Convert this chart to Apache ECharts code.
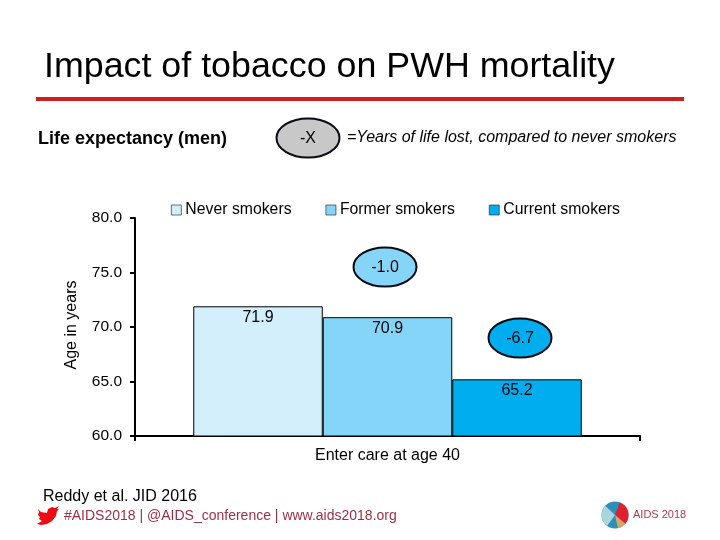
<!DOCTYPE html>
<html><head><meta charset="utf-8">
<style>html,body{margin:0;padding:0;background:#fff}#c{width:720px;height:540px}</style>
<script src="https://cdn.jsdelivr.net/npm/echarts@6/dist/echarts.min.js"></script>
</head><body><div id="c"></div>
<script>
var categories = ['Enter care at age 40'];
var seriesNames = ['Never smokers', 'Former smokers', 'Current smokers'];
var neverValues = [71.9];
var formerValues = [70.9];
var currentValues = [65.2];
var yearsLost = ['-1.0', '-6.7'];
var FONT = '"Liberation Sans", Arial, sans-serif';

function ell(cx, cy, fill, label) {
  return [
    {type:'ellipse', shape:{cx:cx, cy:cy, rx:31.5, ry:19.5}, style:{fill:fill, stroke:'#0a0a14', lineWidth:2}, z:10},
    {type:'text', x:cx, y:cy+1, style:{text:label, fill:'#000', font:'16px '+FONT, align:'center', verticalAlign:'middle'}, z:11}
  ];
}
var birdPoints = [[38,509],[41,512],[47,513],[48,509],[52,507],[55,508],[59,506],[57,509],[59,509],[57,511],[56,516],[52,521],[47,524],[41,525],[37,524],[42,521],[39,519],[40,517],[38,515],[39,512]];
function dataLabel() {
  return {show:true, position:'insideTop', distance:3, formatter:function(p){return p.value.toFixed(1);}, color:'#000', fontSize:16, fontFamily:FONT};
}

var option = {
  animation:false,
  textStyle:{fontFamily:FONT},
  legend:{
    left:166, top:197, itemWidth:10, itemHeight:10, itemGap:34, icon:'rect',
    data:seriesNames,
    itemStyle:{borderColor:'#333', borderWidth:0.7},
    textStyle:{fontFamily:FONT, fontSize:15.8, color:'#000', padding:[0,0,0,-1]}
  },
  grid:{left:135, right:80, top:218, bottom:104, containLabel:false},
  xAxis:{
    type:'category', data:categories,
    axisLine:{lineStyle:{color:'#000', width:2}},
    axisTick:{show:true, length:5, lineStyle:{color:'#000', width:2}},
    axisLabel:{color:'#000', fontSize:16, fontFamily:FONT, margin:12}
  },
  yAxis:{
    type:'value', min:60, max:80, interval:5,
    name:'Age in years', nameLocation:'middle', nameGap:55, nameRotate:90,
    nameTextStyle:{color:'#000', fontSize:16, fontFamily:FONT, padding:[0,0,0,4]},
    splitLine:{show:false},
    axisLine:{show:true, onZero:false, lineStyle:{color:'#000', width:2}},
    axisTick:{show:true, length:5, lineStyle:{color:'#000', width:2}},
    axisLabel:{color:'#000', fontSize:15.5, fontFamily:FONT, margin:13, padding:[3,0,0,0], formatter:function(v){return v.toFixed(1);}}
  },
  series:[
    {name:seriesNames[0], type:'bar', data:neverValues, barWidth:129.5, barGap:0, itemStyle:{color:'#D2EFFB', borderColor:'#000', borderWidth:1}, label:dataLabel()},
    {name:seriesNames[1], type:'bar', data:formerValues, barWidth:129.5, barGap:0, itemStyle:{color:'#84D5F8', borderColor:'#000', borderWidth:1}, label:dataLabel()},
    {name:seriesNames[2], type:'bar', data:currentValues, barWidth:129.5, barGap:0, itemStyle:{color:'#00AEEF', borderColor:'#000', borderWidth:1}, label:dataLabel()}
  ],
  graphic:[
    {type:'text', x:44, y:67, style:{text:'Impact of tobacco on PWH mortality', fill:'#000', font:'35.8px '+FONT, verticalAlign:'middle'}},
    {type:'rect', shape:{x:36, y:97, width:648, height:4}, style:{fill:'#CC1F20'}},
    {type:'text', x:38, y:139, style:{text:'Life expectancy (men)', fill:'#000', font:'bold 18px '+FONT, verticalAlign:'middle'}},
    {type:'text', x:347, y:138, style:{text:'=Years of life lost, compared to never smokers', fill:'#000', font:'italic 16px '+FONT, verticalAlign:'middle'}},
    {type:'text', x:43, y:497, style:{text:'Reddy et al. JID 2016', fill:'#000', font:'16px '+FONT, verticalAlign:'middle'}},
    {type:'text', x:64, y:516, style:{text:'#AIDS2018 | @AIDS_conference | www.aids2018.org', fill:'#9E2F45', font:'14px '+FONT, verticalAlign:'middle'}},
    {type:'polygon', shape:{points:birdPoints}, style:{fill:'#EE0A12'}},
    {type:'circle', shape:{cx:615, cy:515, r:13.5}, style:{fill:'#2E8FB8'}},
    {type:'sector', shape:{cx:615, cy:515, r:13.5, r0:0, startAngle:-1.2, endAngle:0.7}, style:{fill:'#E0202C'}},
    {type:'sector', shape:{cx:615, cy:515, r:13.5, r0:0, startAngle:2.2, endAngle:3.9}, style:{fill:'#A9D6DE'}},
    {type:'sector', shape:{cx:615, cy:515, r:13.5, r0:0, startAngle:0.7, endAngle:1.35}, style:{fill:'#D9A866'}},
    {type:'text', x:633, y:515, style:{text:'AIDS 2018', fill:'#B23A48', font:'11px '+FONT, verticalAlign:'middle'}}
  ].concat(ell(308,138,'#C8C8C8','-X'), ell(385,267,'#84D5F8',yearsLost[0]), ell(520,338,'#00AEEF',yearsLost[1]))
};
var chart = echarts.init(document.getElementById('c'), null, {renderer:'canvas'});
chart.setOption(option);
</script></body></html>
